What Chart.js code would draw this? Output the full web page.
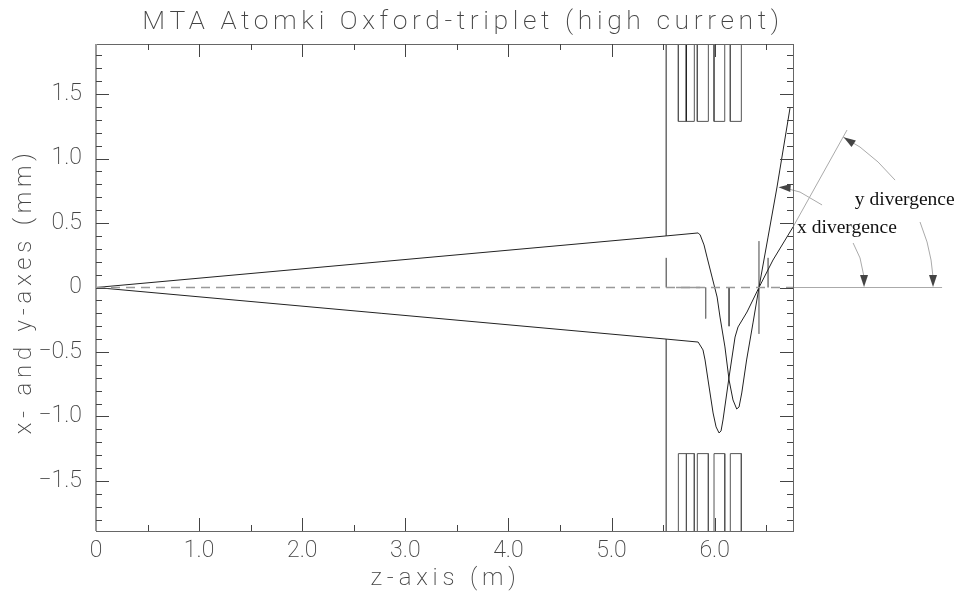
<!DOCTYPE html>
<html>
<head>
<meta charset="utf-8">
<title>MTA Atomki Oxford-triplet</title>
<script src="https://cdn.jsdelivr.net/npm/chart.js@4"></script>
<style>
  html, body { margin: 0; padding: 0; background: #fff; }
  #wrap { width: 955px; height: 591px; }
</style>
</head>
<body>
<div id="wrap"><canvas id="beamChart" width="955" height="591"></canvas></div>
<script>
// Beam envelopes, z (m) and transverse size (mm)
const upperZ = [0, 5.53, 5.84, 5.86, 5.897, 5.926, 5.975, 6.024, 6.052, 6.10, 6.14, 6.178, 6.214, 6.237, 6.263, 6.31, 6.372, 6.43, 6.518, 6.605, 6.731];
const upperY = [0, 0.40, 0.423, 0.407, 0.33, 0.236, 0.081, -0.074, -0.229, -0.461, -0.717, -0.872, -0.942, -0.926, -0.818, -0.562, -0.275, 0, 0.391, 0.779, 1.391];
const lowerZ = [0, 5.53, 5.84, 5.887, 5.907, 5.936, 5.985, 6.014, 6.043, 6.062, 6.081, 6.14, 6.198, 6.227, 6.314, 6.43, 6.566, 6.76];
const lowerY = [0, -0.40, -0.423, -0.484, -0.562, -0.717, -0.973, -1.081, -1.128, -1.112, -1.027, -0.694, -0.384, -0.306, -0.19, 0, 0.213, 0.469];

// Beamline elements
const slitZ = 5.53;
const slitOpening = 0.40;
const magnetEdges = [[5.648, 5.803], [5.832, 5.939], [5.994, 6.098], [6.152, 6.259]];
const magnetInner = 1.288;
const magnetCentre = 5.725;
const driftZ = [5.625, 5.86];
const markerZ = [5.53, 5.913, 6.14, 6.43, 6.518];
const markerFrom = [0, 0, 0, -0.36, 0];
const markerTo = [0.23, -0.24, -0.30, 0.36, 0.23];
const markerColor = ['#333', '#777', '#555', '#444', '#333'];

// Divergence annotation
const guideZ = [6.76, 7.284];
const guideY = [0.469, 1.221];
const baselineZ = [6.76, 8.206];
const yArcZ = [7.245, 7.41, 7.585, 7.75, NaN, 7.992, 8.06, 8.099, 8.118];
const yArcY = [1.167, 1.089, 0.973, 0.833, NaN, 0.508, 0.353, 0.213, 0.081];
const xArcZ = [6.683, 6.828, 7.042, NaN, 7.343, 7.41, 7.449];
const xArcY = [0.771, 0.74, 0.64, NaN, 0.345, 0.229, 0.081];
const arrowZ = [7.449, 8.118, 7.30, 6.678];
const arrowY = [0.05, 0.05, 1.14, 0.775];
const arrowAngle = [180, 180, -57, -86];
const noteText = ['x divergence', 'y divergence'];
const noteZ = [6.80, 7.36];
const noteY = [0.42, 0.64];

// Axes
const zMax = 6.76;
const yLimit = 1.888;
const zLabels = [0, 1, 2, 3, 4, 5, 6];
const yLabels = [-1.5, -1, -0.5, 0, 0.5, 1, 1.5];

const chartTitle = 'MTA Atomki Oxford-triplet (high current)';
const zTitle = 'z-axis (m)';
const yTitle = 'x- and y-axes (mm)';

const TEXT = '#444';
const GUIDE = '#aaa';
const AXIS_FONT = 'Roboto, "Noto Sans", sans-serif';

function zip(xs, ys) {
    return xs.map((x, i) => ({ x: x, y: ys[i] }));
}

function lineSet(data, color, width, extra) {
    return Object.assign({
        data: data,
        showLine: true,
        borderColor: color,
        borderWidth: width,
        pointRadius: 0,
        tension: 0,
        spanGaps: false,
        clip: false
    }, extra || {});
}

function buildDatasets() {
    const sets = [];
    sets.push(lineSet([{ x: 0, y: 0 }, { x: zMax, y: 0 }], '#999', 1.5, { borderDash: [9, 6] }));
    sets.push(lineSet([{ x: driftZ[0], y: 0 }, { x: driftZ[1], y: 0 }], '#999', 1.5));
    sets.push(lineSet(zip(upperZ, upperY), '#222', 1));
    sets.push(lineSet(zip(lowerZ, lowerY), '#222', 1));

    // slit blades above and below the opening
    sets.push(lineSet([{ x: slitZ, y: yLimit }, { x: slitZ, y: slitOpening }], '#555', 1.3));
    sets.push(lineSet([{ x: slitZ, y: -slitOpening }, { x: slitZ, y: -yLimit }], '#555', 1.3));

    // quadrupole outlines, top and bottom
    [1, -1].forEach(side => {
        magnetEdges.forEach(edge => {
            sets.push(lineSet([
                { x: edge[0], y: side * yLimit },
                { x: edge[0], y: side * magnetInner },
                { x: edge[1], y: side * magnetInner },
                { x: edge[1], y: side * yLimit }
            ], '#555', 1));
        });
        sets.push(lineSet([{ x: magnetCentre, y: side * yLimit }, { x: magnetCentre, y: side * magnetInner }], '#222', 1));
    });

    markerZ.forEach((z, i) => {
        sets.push(lineSet([{ x: z, y: markerFrom[i] }, { x: z, y: markerTo[i] }], markerColor[i], 1));
    });

    sets.push(lineSet(zip(guideZ, guideY), GUIDE, 1));
    sets.push(lineSet([{ x: baselineZ[0], y: 0 }, { x: baselineZ[1], y: 0 }], GUIDE, 1));
    sets.push(lineSet(zip(yArcZ, yArcY), GUIDE, 1));
    sets.push(lineSet(zip(xArcZ, xArcY), GUIDE, 1));
    return sets;
}

// Frame, inward ticks, arrowheads, titles and the two serif notes.
// Chart.js skips points outside the chart area, so the arrowheads go here too.
const framePlugin = {
    id: 'frame',
    afterDatasetsDraw(chart) {
        const { ctx, chartArea: a, scales } = chart;
        const sx = scales.x, sy = scales.y;
        ctx.save();
        ctx.strokeStyle = '#666';
        ctx.lineWidth = 1;
        ctx.strokeRect(Math.round(a.left) + 0.5, Math.round(a.top) + 0.5, Math.round(a.width), Math.round(a.height));
        ctx.lineWidth = 2;
        ctx.strokeStyle = '#999';
        ctx.beginPath();
        ctx.moveTo(a.left, a.top);
        ctx.lineTo(a.left, a.bottom);
        ctx.stroke();

        ctx.lineWidth = 1;
        ctx.strokeStyle = '#444';
        ctx.beginPath();
        for (let i = 1; i * 0.5 < zMax; i++) {
            const px = Math.round(sx.getPixelForValue(i * 0.5)) + 0.5;
            const len = i % 2 === 0 ? 13 : 6;
            ctx.moveTo(px, a.bottom);
            ctx.lineTo(px, a.bottom - len);
            ctx.moveTo(px, a.top);
            ctx.lineTo(px, a.top + len);
        }
        for (let i = -18; i <= 18; i++) {
            const py = Math.round(sy.getPixelForValue(i / 10)) + 0.5;
            const len = i % 5 === 0 ? 13 : 6;
            ctx.moveTo(a.left, py);
            ctx.lineTo(a.left + len, py);
            ctx.moveTo(a.right, py);
            ctx.lineTo(a.right - len, py);
        }
        ctx.stroke();

        ctx.fillStyle = '#444';
        arrowZ.forEach((z, i) => {
            ctx.save();
            ctx.translate(sx.getPixelForValue(z), sy.getPixelForValue(arrowY[i]));
            ctx.rotate(arrowAngle[i] * Math.PI / 180);
            ctx.beginPath();
            ctx.moveTo(0, -6);
            ctx.lineTo(4, 6);
            ctx.lineTo(-4, 6);
            ctx.closePath();
            ctx.fill();
            ctx.restore();
        });

        ctx.fillStyle = '#111';
        ctx.font = '19.5px "Liberation Serif", serif';
        ctx.textAlign = 'left';
        ctx.textBaseline = 'alphabetic';
        noteText.forEach((t, i) => {
            ctx.fillText(t, sx.getPixelForValue(noteZ[i]), sy.getPixelForValue(noteY[i]));
        });

        ctx.fillStyle = TEXT;
        ctx.textAlign = 'center';
        ctx.font = '200 26.5px ' + AXIS_FONT;
        ctx.letterSpacing = '4.6px';
        ctx.fillText(chartTitle, 463, 29);
        ctx.font = '200 24px ' + AXIS_FONT;
        ctx.letterSpacing = '4.8px';
        ctx.fillText(zTitle, sx.getPixelForValue(3.39), 585);
        ctx.translate(31, sy.getPixelForValue(-0.03));
        ctx.rotate(-Math.PI / 2);
        ctx.fillText(yTitle, 0, 0);
        ctx.restore();
    }
};

new Chart(document.getElementById('beamChart').getContext('2d'), {
    type: 'scatter',
    data: { datasets: buildDatasets() },
    plugins: [framePlugin],
    options: {
        responsive: false,
        animation: false,
        layout: { padding: { left: 0, right: 162, top: 44, bottom: 0 } },
        plugins: {
            legend: { display: false },
            tooltip: { enabled: false }
        },
        scales: {
            x: {
                type: 'linear',
                min: 0,
                max: zMax,
                afterBuildTicks: scale => { scale.ticks = zLabels.map(v => ({ value: v })); },
                afterFit: scale => { scale.height = 60; },
                grid: { display: false },
                border: { display: false },
                ticks: {
                    color: TEXT,
                    padding: -2,
                    maxRotation: 0,
                    autoSkip: false,
                    font: { family: AXIS_FONT, size: 23, weight: '200' },
                    callback: v => v === 0 ? '0' : v.toFixed(1)
                }
            },
            y: {
                type: 'linear',
                min: -yLimit,
                max: yLimit,
                afterBuildTicks: scale => { scale.ticks = yLabels.map(v => ({ value: v })); },
                afterFit: scale => { scale.width = 96; },
                grid: { display: false },
                border: { display: false },
                ticks: {
                    color: TEXT,
                    padding: 6,
                    autoSkip: false,
                    font: { family: AXIS_FONT, size: 23, weight: '200' },
                    callback: v => v === 0 ? '0' : (v < 0 ? '\u2212' : '') + Math.abs(v).toFixed(1)
                }
            }
        }
    }
});
</script>
</body>
</html>
